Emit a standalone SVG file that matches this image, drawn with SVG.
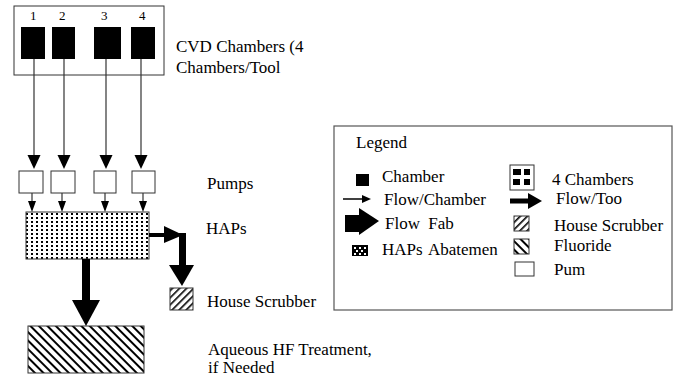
<svg xmlns="http://www.w3.org/2000/svg" width="679" height="379" viewBox="0 0 679 379">
<style>
text{font-family:"Liberation Serif","Times New Roman",serif;font-size:17px;fill:#000}
.num{font-size:13px}
.box{fill:#fff;stroke:#333;stroke-width:1}
.blk{fill:#000}
.thin{stroke:#333;stroke-width:1.2;fill:none}
</style>
<defs>
<pattern id="dots" width="5" height="4" patternUnits="userSpaceOnUse">
<rect width="5" height="4" fill="#fff"/>
<rect x="1" y="1" width="2" height="2" fill="#000"/>
</pattern>
<pattern id="fwd" width="5" height="5" patternUnits="userSpaceOnUse" patternTransform="rotate(45)">
<rect width="5" height="5" fill="#fff"/>
<rect x="0" y="0" width="1.6" height="5" fill="#000"/>
</pattern>
<pattern id="bwd" width="6" height="6" patternUnits="userSpaceOnUse" patternTransform="rotate(-45)">
<rect width="6" height="6" fill="#fff"/>
<rect x="0" y="0" width="2" height="6" fill="#000"/>
</pattern>
</defs>

<g id="tool">
<rect class="box" x="14" y="6" width="150" height="69"/>
<text class="num" x="30" y="20">1</text>
<text class="num" x="59" y="20">2</text>
<text class="num" x="101" y="20">3</text>
<text class="num" x="139" y="20">4</text>
<rect class="blk" x="21" y="27" width="24" height="32"/>
<rect class="blk" x="52" y="27" width="23" height="32"/>
<rect class="blk" x="94" y="27" width="27" height="32"/>
<rect class="blk" x="131" y="27" width="24" height="32"/>
<text x="176" y="52">CVD Chambers (4</text>
<text x="176" y="73">Chambers/Tool</text>
</g>

<g id="pumps">
<rect class="box" x="19" y="171" width="24" height="22"/>
<rect class="box" x="51" y="171" width="24" height="22"/>
<rect class="box" x="94" y="171" width="22" height="22"/>
<rect class="box" x="132" y="171" width="23" height="22"/>
<text x="207" y="189">Pumps</text>
</g>

<g id="haps">
<rect x="26" y="212" width="123" height="47" fill="url(#dots)" stroke="#333" stroke-width="1"/>
<text x="206" y="234">HAPs</text>
</g>

<g id="house-scrubber">
<rect x="170" y="288" width="23" height="22" fill="url(#fwd)" stroke="#333" stroke-width="1"/>
<text x="207" y="307">House Scrubber</text>
</g>

<g id="aqueous">
<rect x="28" y="326" width="116" height="47" fill="url(#bwd)" stroke="#333" stroke-width="1"/>
<text x="208" y="355">Aqueous HF Treatment,</text>
<text x="208" y="373">if Needed</text>
</g>

<g id="connectors">
<line class="thin" x1="34" y1="59" x2="34" y2="157"/>
<line class="thin" x1="64" y1="59" x2="64" y2="157"/>
<line class="thin" x1="106" y1="59" x2="106" y2="157"/>
<line class="thin" x1="141" y1="59" x2="141" y2="157"/>
<polygon class="blk" points="27.5,155 40.5,155 34,169"/>
<polygon class="blk" points="57.5,155 70.5,155 64,169"/>
<polygon class="blk" points="99.5,155 112.5,155 106,169"/>
<polygon class="blk" points="134.5,155 147.5,155 141,169"/>

<line class="thin" x1="32" y1="193" x2="32" y2="203"/>
<line class="thin" x1="62" y1="193" x2="62" y2="203"/>
<line class="thin" x1="105" y1="193" x2="105" y2="203"/>
<line class="thin" x1="143" y1="193" x2="143" y2="203"/>
<polygon class="blk" points="28,201 36,201 32,212"/>
<polygon class="blk" points="58,201 66,201 62,212"/>
<polygon class="blk" points="101,201 109,201 105,212"/>
<polygon class="blk" points="139,201 147,201 143,212"/>

<rect class="blk" x="149" y="233" width="17" height="4"/>
<polygon class="blk" points="164,226 164,243 183,235"/>
<rect class="blk" x="179" y="233" width="7" height="33"/>
<polygon class="blk" points="169,265 194,265 182,286"/>

<rect class="blk" x="82" y="259" width="8" height="42"/>
<polygon class="blk" points="72,300 100,300 86,326"/>
</g>

<g id="legend">
<rect x="334" y="126" width="338" height="184" fill="#fff" stroke="#555" stroke-width="1.2"/>
<text x="356" y="148">Legend</text>

<rect class="blk" x="356" y="174" width="13" height="12"/>
<text x="382" y="182">Chamber</text>

<line x1="343" y1="199" x2="363" y2="199" stroke="#000" stroke-width="1.5"/>
<polygon class="blk" points="362,195 362,203 371,199"/>
<text x="384" y="205">Flow/Chamber</text>

<rect class="blk" x="345" y="215" width="15" height="17"/>
<polygon class="blk" points="359,208 359,235 379,221"/>
<text x="385" y="229" word-spacing="4">Flow Fab</text>

<rect class="blk" x="352" y="245" width="16" height="11"/>
<rect x="354" y="247" width="2" height="2" fill="#fff"/>
<rect x="359" y="247" width="2" height="2" fill="#fff"/>
<rect x="364" y="247" width="2" height="2" fill="#fff"/>
<rect x="356" y="250" width="2" height="2" fill="#fff"/>
<rect x="361" y="250" width="2" height="2" fill="#fff"/>
<rect x="354" y="253" width="2" height="2" fill="#fff"/>
<rect x="359" y="253" width="2" height="2" fill="#fff"/>
<rect x="364" y="253" width="2" height="2" fill="#fff"/>
<text x="382" y="255" word-spacing="2">HAPs Abatemen</text>

<rect x="510" y="165" width="24" height="25" fill="#fff" stroke="#333" stroke-width="1"/>
<rect class="blk" x="513" y="169" width="8" height="6"/>
<rect class="blk" x="524" y="169" width="6" height="6"/>
<rect class="blk" x="513" y="179" width="7" height="6"/>
<rect class="blk" x="524" y="179" width="6" height="6"/>
<text x="552" y="185">4 Chambers</text>

<rect class="blk" x="510" y="198.5" width="19" height="5"/>
<polygon class="blk" points="528,193 528,209 542,201"/>
<text x="556" y="204">Flow/Too</text>

<rect x="514" y="216" width="15" height="15" fill="url(#fwd)" stroke="#333" stroke-width="1"/>
<text x="554" y="231">House Scrubber</text>

<rect x="514" y="239" width="15" height="15" fill="url(#bwd)" stroke="#333" stroke-width="1"/>
<text x="554" y="251">Fluoride</text>

<rect x="515" y="262" width="19" height="14" fill="#fff" stroke="#333" stroke-width="1"/>
<text x="554" y="275">Pum</text>
</g>
</svg>
